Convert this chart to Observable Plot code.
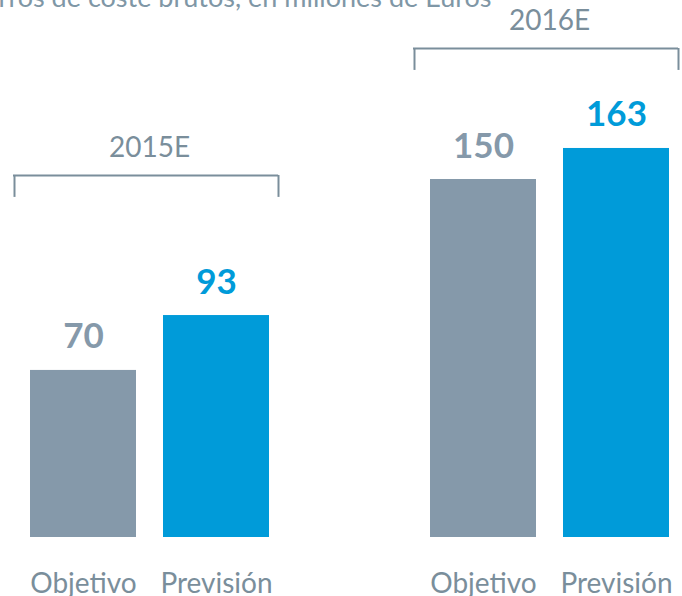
<!DOCTYPE html>
<html><head><meta charset="utf-8">
<script src="https://cdn.jsdelivr.net/npm/d3@7"></script>
<script src="https://cdn.jsdelivr.net/npm/@observablehq/plot@0.6"></script>
<style>
body{margin:0;background:#fff;}
#wrap{position:relative;width:682px;height:596px;overflow:hidden;font-family:Lato,sans-serif;}
#title{position:absolute;left:-50px;top:-17px;font-size:27px;line-height:27px;color:#7f97a6;white-space:nowrap;}
#chart{position:absolute;left:0;top:0;}
</style></head><body><div id="wrap"><div id="title">Ahorros de coste brutos, en millones de Euros</div><div id="chart"></div></div>
<script>
const years = ["2015E", "2016E"];
const types = ["Objetivo", "Previsión"];
const objetivo = [70, 150];
const prevision = [93, 163];
const bracketLevel = [151.7, 204.9];

const data = years.flatMap((yr, i) => [
  {year: yr, type: types[0], value: objetivo[i]},
  {year: yr, type: types[1], value: prevision[i]}
]);
const brackets = years.map((yr, i) => ({year: yr, level: bracketLevel[i]}));
const colors = ["#8599aa", "#009bd9"];
const txt = "#7a8e9b";

const plot = Plot.plot({
  width: 682, height: 596,
  marginTop: 0, marginBottom: 59, marginLeft: 29, marginRight: 13,
  style: {fontFamily: "Lato, sans-serif", background: "transparent", overflow: "visible"},
  fx: {domain: years, paddingInner: 0.4, paddingOuter: 0, axis: null},
  x: {domain: types, paddingInner: 0.205, paddingOuter: 0, axis: null},
  y: {domain: [0, 225], axis: null},
  color: {domain: types, range: colors},
  marks: [
    Plot.barY(data, {fx: "year", x: "type", y: "value", fill: "type"}),
    Plot.text(data, {fx: "year", x: "type", y: "value", text: d => String(d.value), fill: "type",
      lineAnchor: "bottom", dy: -22, fontSize: 35, fontWeight: "bold"}),
    Plot.axisX({fontSize: 28, tickSize: 0, tickPadding: 36, fill: txt, label: null}),
    Plot.ruleY(brackets, {fx: "year", y: "level", stroke: txt, strokeWidth: 2, insetLeft: -16, insetRight: -9}),
    Plot.ruleX(brackets, {fx: "year", x: () => types[0], y1: "level", y2: d => d.level - 9.2, dx: -69, stroke: txt, strokeWidth: 2}),
    Plot.ruleX(brackets, {fx: "year", x: () => types[1], y1: "level", y2: d => d.level - 9.2, dx: 62, stroke: txt, strokeWidth: 2}),
    Plot.text(brackets, {fx: "year", y: "level", text: "year", dy: -18, lineAnchor: "bottom", fontSize: 28, fill: txt})
  ]
});
document.getElementById("chart").appendChild(plot);
</script>
</body></html>
